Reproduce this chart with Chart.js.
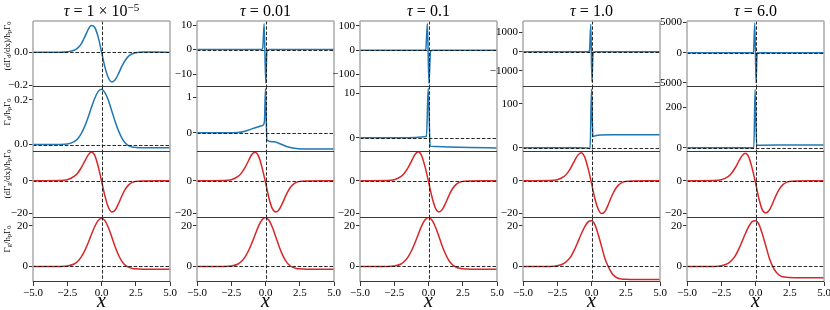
<!DOCTYPE html>
<html><head><meta charset="utf-8">
<script src="https://cdn.jsdelivr.net/npm/chart.js@4.4.0/dist/chart.umd.min.js"></script>
<style>
body{margin:0;background:#fff;width:830px;height:310px;overflow:hidden;position:relative;font-family:'Liberation Serif',serif;color:#000;}
canvas{position:absolute;}
.t{position:absolute;font-size:16px;white-space:nowrap;transform:translate(-50%,-50%);line-height:1;}
.t i{font-style:italic;}
.t sup{font-size:70%;vertical-align:0.45em;line-height:0;}
.yl{position:absolute;font-size:9px;white-space:nowrap;transform:translate(-50%,-50%) rotate(-90deg);line-height:1;}
.yl sub{font-size:70%;vertical-align:-0.25em;line-height:0;}
.xl{position:absolute;font-size:20px;font-style:italic;transform:translate(-50%,-50%);line-height:1;}
</style></head><body>
<script>
// ---------------- data ----------------
const TITLES = ['<i>τ</i> = 1 × 10<sup>−5</sup>', '<i>τ</i> = 0.01', '<i>τ</i> = 0.1', '<i>τ</i> = 1.0', '<i>τ</i> = 6.0'];
const YLABELS = ['(dΓ<sub>d</sub>/dx)/h<sub>p</sub>Γ<sub>0</sub>', 'Γ<sub>d</sub>/h<sub>p</sub>Γ<sub>0</sub>',
                 '(dΓ<sub>g</sub>/dx)/h<sub>p</sub>Γ<sub>0</sub>', 'Γ<sub>g</sub>/h<sub>p</sub>Γ<sub>0</sub>'];
const XTICKS = [-5, -2.5, 0, 2.5, 5];
const XTICK_LABELS = ['−5.0', '−2.5', '0.0', '2.5', '5.0'];

const xSmooth = [-5,-3,-2.5,-2,-1.75,-1.5,-1.25,-1,-0.75,-0.5,-0.25,0,0.25,0.5,0.75,1,1.25,1.5,1.75,2,2.25,2.5,3,4,5];

// row 1 : (dΓd/dx)/hpΓ0
const r1c1 = [0,0,0.003,0.012,0.025,0.048,0.088,0.133,0.163,0.152,0.095,0.003,-0.09,-0.155,-0.18,-0.167,-0.128,-0.083,-0.047,-0.022,-0.009,-0.003,0.001,0.001,0];
const r1c2x = [-5,-1,-0.3,-0.2,-0.1,0.02,0.1,0.25,1,5];
const r1c2y = [0,0,0.05,0.6,10.6,-13.7,-0.8,0,0,0];
const r1c3x = [-5,-1,-0.3,-0.2,-0.08,0.03,0.15,0.3,1,5];
const r1c3y = [0,0,0.2,3,110,-136,-3,0,0,0];
const r1c4x = [-5,-1,-0.3,-0.15,-0.05,0.03,0.12,0.3,1,5];
const r1c4y = [0,0,0,30,1440,-1560,-20,0,0,0];
const r1c5x = [-5,-1,-0.3,-0.15,-0.05,0.04,0.12,0.3,1,5];
const r1c5y = [0,0,0,50,4950,-5050,-50,0,0,0];

// row 2 : Γd/hpΓ0
const r2c1 = [0,0,0.002,0.013,0.025,0.047,0.078,0.118,0.163,0.206,0.237,0.248,0.232,0.198,0.15,0.102,0.06,0.028,0.006,-0.006,-0.011,-0.013,-0.015,-0.015,-0.015];
const r2c2x = [-5,-3,-2,-1.5,-1,-0.5,-0.2,-0.08,0,0.1,0.6,1.1,1.6,2.1,2.6,5];
const r2c2y = [0,0,0.005,0.04,0.11,0.17,0.21,0.3,1.26,-0.21,-0.26,-0.32,-0.4,-0.44,-0.46,-0.46];
const r2c3x = [-5,-2,-1,-0.5,-0.15,-0.02,0.12,0.5,1.5,3,5];
const r2c3y = [0,0,0.05,0.15,0.3,11.1,-1.9,-2.0,-2.1,-2.2,-2.3];
const r2c4x = [-5,-1,-0.3,-0.1,0,0.1,0.3,0.6,1.5,5];
const r2c4y = [0,0,-0.5,-2,133,25.4,27,28.7,29.2,29.2];
const r2c5x = [-5,-1,-0.3,-0.12,-0.03,0.08,0.4,1.5,5];
const r2c5y = [0,0,0,-1,289,12.2,12.8,13.3,13.3];

// row 3 : (dΓg/dx)/hpΓ0
const r3c1 = [0,0.1,0.6,2.6,4.6,7.6,11.5,15.3,17.5,15.6,9.0,0,-9.2,-16.2,-19.0,-17.8,-13.8,-9.0,-5.0,-2.4,-1.0,-0.4,-0.1,0,0];
const r3c2 = [0,0.1,0.6,2.6,4.8,8.0,12.0,16.0,17.3,14.8,8.0,-1.0,-10.5,-17.0,-19.0,-17.5,-13.5,-8.8,-4.9,-2.4,-1.0,-0.4,-0.1,0,0];
const r3c3 = [0,0.1,0.6,2.6,4.7,7.8,11.8,15.8,17.6,15.2,8.4,-0.5,-9.8,-16.6,-19.0,-17.6,-13.6,-8.9,-4.9,-2.4,-1.0,-0.4,-0.1,0,0];
const r3c4 = [0,0.1,0.6,2.6,4.8,8.0,12.0,15.6,17.1,14.5,7.5,-1.5,-11.0,-17.5,-20.0,-18.5,-14.0,-9.0,-5.0,-2.4,-1.0,-0.4,-0.1,0,0];
const r3c5 = [0,0.1,0.6,2.5,4.6,7.6,11.4,15.0,16.7,14.5,7.8,-1.2,-11.0,-17.8,-19.6,-18.0,-13.8,-8.9,-5.0,-2.4,-1.0,-0.4,-0.1,0,0];

// row 4 : Γg/hpΓ0
const r4c1 = [0,0,0.2,1.2,2.4,4.5,7.4,11.2,15.5,19.6,22.6,23.8,22.6,19.2,14.5,9.6,5.5,2.4,0.5,-0.5,-1.0,-1.2,-1.35,-1.4,-1.4];
const r4c2 = [0,0,0.2,1.2,2.5,4.6,7.6,11.5,15.8,20.0,23.0,24.1,22.8,19.3,14.6,9.7,5.6,2.5,0.6,-0.5,-1.0,-1.2,-1.35,-1.4,-1.4];
const r4c3 = [0,0,0.2,1.2,2.5,4.6,7.6,11.5,15.8,20.0,23.0,24.1,22.9,19.6,15.0,10.1,6.0,2.8,0.8,-0.3,-0.9,-1.2,-1.35,-1.4,-1.4];
const r4c4 = [0,0,0.3,1.5,2.9,5.0,8.2,12.0,16.0,19.5,22.0,22.5,20.5,15.5,9.5,3.5,-0.5,-3.5,-5.2,-6.0,-6.3,-6.4,-6.5,-6.5,-6.5];
const r4c5 = [0,0,0.3,1.5,2.9,5.0,8.2,12.0,16.0,19.6,22.1,22.6,20.8,16.0,10.2,4.3,0.0,-2.8,-4.4,-5.1,-5.4,-5.5,-5.6,-5.6,-5.6];

// axis ranges and ticks
const YLIM = [
  [[-0.205,0.19],[-14.9,11.7],[-147,120],[-1786,1604],[-5525,5262]],
  [[-0.029,0.262],[-0.52,1.33],[-3.0,11.6],[-7.6,140],[-16,305]],
  [[-22.1,18.1],[-22.1,18.1],[-22.1,18.1],[-22.1,18.1],[-22.1,18.1]],
  [[-7.7,24.4],[-7.7,24.4],[-7.7,24.4],[-7.7,24.4],[-7.7,24.4]]
];
const YTICKS = [
  [[-0.2,0],[-10,0,10],[-100,0,100],[-1000,0,1000],[-5000,0,5000]],
  [[0,0.2],[0,1],[0,10],[0,100],[0,200]],
  [[-20,0],[-20,0],[-20,0],[-20,0],[-20,0]],
  [[0,20],[0,20],[0,20],[0,20],[0,20]]
];
const YTICK_LABELS = [
  [['−0.2','0.0'],['−10','0','10'],['−100','0','100'],['−1000','0','1000'],['−5000','0','5000']],
  [['0.0','0.2'],['0','1'],['0','10'],['0','100'],['0','200']],
  [['−20','0'],['−20','0'],['−20','0'],['−20','0'],['−20','0']],
  [['0','20'],['0','20'],['0','20'],['0','20'],['0','20']]
];

const SERIES = [
  [[xSmooth,r1c1],[r1c2x,r1c2y],[r1c3x,r1c3y],[r1c4x,r1c4y],[r1c5x,r1c5y]],
  [[xSmooth,r2c1],[r2c2x,r2c2y],[r2c3x,r2c3y],[r2c4x,r2c4y],[r2c5x,r2c5y]],
  [[xSmooth,r3c1],[xSmooth,r3c2],[xSmooth,r3c3],[xSmooth,r3c4],[xSmooth,r3c5]],
  [[xSmooth,r4c1],[xSmooth,r4c2],[xSmooth,r4c3],[xSmooth,r4c4],[xSmooth,r4c5]]
];
const ROW_COLORS = ['#1f77b4','#1f77b4','#d62728','#d62728'];

// ---------------- layout ----------------
const COL_LEFT = [33,197,360,523,687];
const PW = 137;
const ROW_TOP = [21,86,151,217];
const PH = [65,65,66,65];
const FONT = {family:"'Liberation Serif', serif", size:11};

function framePlugin(r){
  return {id:'frame'+r, afterDatasetsDraw(chart){
    const {ctx, chartArea:a, scales:{x,y}} = chart;
    ctx.save();
    ctx.strokeStyle = '#111'; ctx.lineWidth = 0.9; ctx.setLineDash([3.5,1.8]);
    const y0 = Math.round(y.getPixelForValue(0)) + 0.5;
    ctx.beginPath(); ctx.moveTo(a.left,y0); ctx.lineTo(a.right,y0); ctx.stroke();
    const x0 = Math.round(x.getPixelForValue(0)) + 0.5;
    ctx.beginPath(); ctx.moveTo(x0,a.top); ctx.lineTo(x0,a.bottom); ctx.stroke();
    ctx.setLineDash([]);
    ctx.strokeStyle = '#aaa'; ctx.lineWidth = 1.5;
    ctx.beginPath();
    ctx.moveTo(a.left,a.top); ctx.lineTo(a.left,a.bottom);
    ctx.moveTo(a.right,a.top); ctx.lineTo(a.right,a.bottom);
    if (r === 0) { ctx.moveTo(a.left,a.top); ctx.lineTo(a.right,a.top); }
    ctx.stroke();
    ctx.strokeStyle = '#3a3a3a'; ctx.lineWidth = 1;
    ctx.beginPath();
    if (r !== 0) { ctx.moveTo(a.left,a.top+0.5); ctx.lineTo(a.right,a.top+0.5); }
    if (r === 3) { ctx.moveTo(a.left,a.bottom-0.5); ctx.lineTo(a.right,a.bottom-0.5); }
    ctx.stroke();
    ctx.restore();
  }};
}

function makePanel(r,c){
  const AX = 44, PT = 8, PR = 16, XH = 22;
  const PB = r === 3 ? 4 : 8;
  const w = AX + PW + PR;
  const h = PT + PH[r] + (r === 3 ? XH : 0) + PB;
  const cv = document.createElement('canvas');
  cv.width = w; cv.height = h;
  cv.style.left = (COL_LEFT[c]-AX) + 'px';
  cv.style.top = (ROW_TOP[r]-PT) + 'px';
  cv.style.width = w + 'px'; cv.style.height = h + 'px';
  document.body.appendChild(cv);
  const [xs, ys] = SERIES[r][c];
  const tv = YTICKS[r][c], tl = YTICK_LABELS[r][c];
  new Chart(cv, {
    type: 'line',
    data: {datasets: [{
      data: xs.map((x,i) => ({x: x, y: ys[i]})),
      borderColor: ROW_COLORS[r], borderWidth: 1.5, pointRadius: 0, fill: false,
      tension: 0.4, cubicInterpolationMode: 'monotone'
    }]},
    options: {
      responsive: false, maintainAspectRatio: false, animation: false, devicePixelRatio: 1,
      layout: {padding: {left: 0, top: PT, right: PR, bottom: PB}},
      plugins: {legend: {display: false}, tooltip: {enabled: false}, title: {display: false}},
      scales: {
        x: {
          type: 'linear', min: -5, max: 5, display: r === 3,
          afterFit: s => { s.height = (r === 3) ? XH : 0; },
          afterBuildTicks: s => { s.ticks = XTICKS.map(v => ({value: v})); },
          ticks: {callback: (v,i) => XTICK_LABELS[i], font: FONT, color: '#000', padding: 1, maxRotation: 0, autoSkip: false},
          grid: {drawOnChartArea: false, drawTicks: true, tickLength: 4, color: '#000', lineWidth: 0.8},
          border: {display: false}
        },
        y: {
          type: 'linear', min: YLIM[r][c][0], max: YLIM[r][c][1],
          afterFit: s => { s.width = AX; },
          afterBuildTicks: s => { s.ticks = tv.map(v => ({value: v})); },
          ticks: {callback: (v,i) => tl[i], font: FONT, color: '#000', padding: 1, autoSkip: false},
          grid: {drawOnChartArea: false, drawTicks: true, tickLength: 4, color: '#000', lineWidth: 0.8},
          border: {display: false}
        }
      }
    },
    plugins: [framePlugin(r)]
  });
}

for (let r = 0; r < 4; r++) for (let c = 0; c < 5; c++) makePanel(r,c);

// text
const YL_POS = [46,112,174,239];
for (let c = 0; c < 5; c++) {
  const cx = COL_LEFT[c] + PW/2;
  const t = document.createElement('div'); t.className = 't'; t.innerHTML = TITLES[c];
  t.style.left = cx + 'px'; t.style.top = '11px'; document.body.appendChild(t);
  const xl = document.createElement('div'); xl.className = 'xl'; xl.textContent = 'x';
  xl.style.left = cx + 'px'; xl.style.top = '300px'; document.body.appendChild(xl);
}
for (let r = 0; r < 4; r++) {
  const d = document.createElement('div'); d.className = 'yl'; d.innerHTML = YLABELS[r];
  d.style.left = '7px'; d.style.top = YL_POS[r] + 'px'; document.body.appendChild(d);
}
</script>
</body></html>
